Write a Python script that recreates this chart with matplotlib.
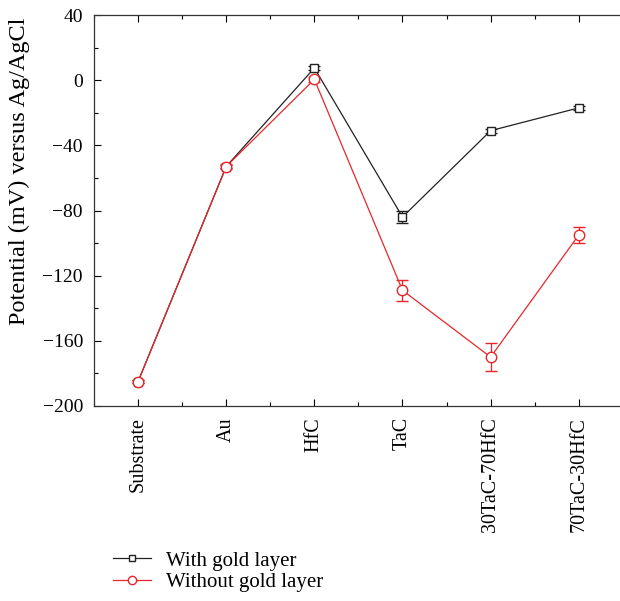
import numpy as np
import matplotlib.pyplot as plt
from matplotlib.lines import Line2D
from matplotlib.ticker import MultipleLocator

plt.rcParams['font.family'] = ['Liberation Serif', 'DejaVu Serif']
plt.rcParams['axes.unicode_minus'] = True

samples = ['Substrate', 'Au', 'HfC', 'TaC', '30TaC-70HfC', '70TaC-30HfC']
with_gold = [-185, -53, 7.5, -84, -31, -17]
with_gold_err = [1.2, 1.2, 1.2, 3.8, 1.2, 1.2]
without_gold = [-185, -53, 0.5, -129, -170, -95]
without_gold_err = [1.2, 1.5, 1.5, 6.6, 8.5, 5.0]

red = '#e8262a'
black = '#222222'
x = np.arange(len(samples))

fig = plt.figure(figsize=(6.2, 6.01), dpi=100)
ax = fig.add_axes([0.1516, 0.3245, 0.853, 0.6505])

ax.errorbar(x, with_gold, yerr=with_gold_err, color=black, lw=0.9,
            marker='s', ms=6, mfc='white', mec=black, mew=1.0,
            capsize=4, elinewidth=0.9, capthick=0.9, zorder=3)
ax.errorbar(x, without_gold, yerr=without_gold_err, color=red, lw=0.9,
            marker='o', ms=7.5, mfc='white', mec=red, mew=1.0,
            capsize=4, elinewidth=0.9, capthick=0.9, zorder=4)

ax.set_xlim(-0.5, 5.5)
ax.set_ylim(-200, 40)
ax.set_xticks(x)
ax.set_xticklabels(samples, rotation=90, fontsize=14.5)
ax.xaxis.set_minor_locator(MultipleLocator(0.5))
ax.yaxis.set_major_locator(MultipleLocator(40))
ax.yaxis.set_minor_locator(MultipleLocator(20))
ax.tick_params(which='both', direction='in', top=True, right=False)
ax.tick_params(axis='y', labelsize=14)
ax.tick_params(which='major', length=5, width=0.8)
ax.tick_params(which='minor', length=3, width=0.8)
ax.tick_params(axis='y', which='major', pad=8)
ax.tick_params(axis='x', which='major', pad=8)
for s in ax.spines.values():
    s.set_linewidth(0.9)
    s.set_color('#333333')
ax.set_ylabel('Potential (mV) versus Ag/AgCl', fontsize=17.5)
ax.yaxis.set_label_coords(-0.121, 0.6)

handles = [
    Line2D([], [], color=black, lw=0.9, marker='s', ms=5, mfc='white', mec=black),
    Line2D([], [], color=red, lw=0.9, marker='o', ms=6, mfc='white', mec=red),
]
labels = ['With gold layer', 'Without gold layer']
fig.legend(handles, labels, loc='upper left', bbox_to_anchor=(113 / 620, 1 - 551 / 601),
           frameon=False, fontsize=15, handlelength=1.8, handletextpad=0.75,
           labelspacing=0.1, borderpad=0, borderaxespad=0)

fig.savefig('out.png', dpi=100)
